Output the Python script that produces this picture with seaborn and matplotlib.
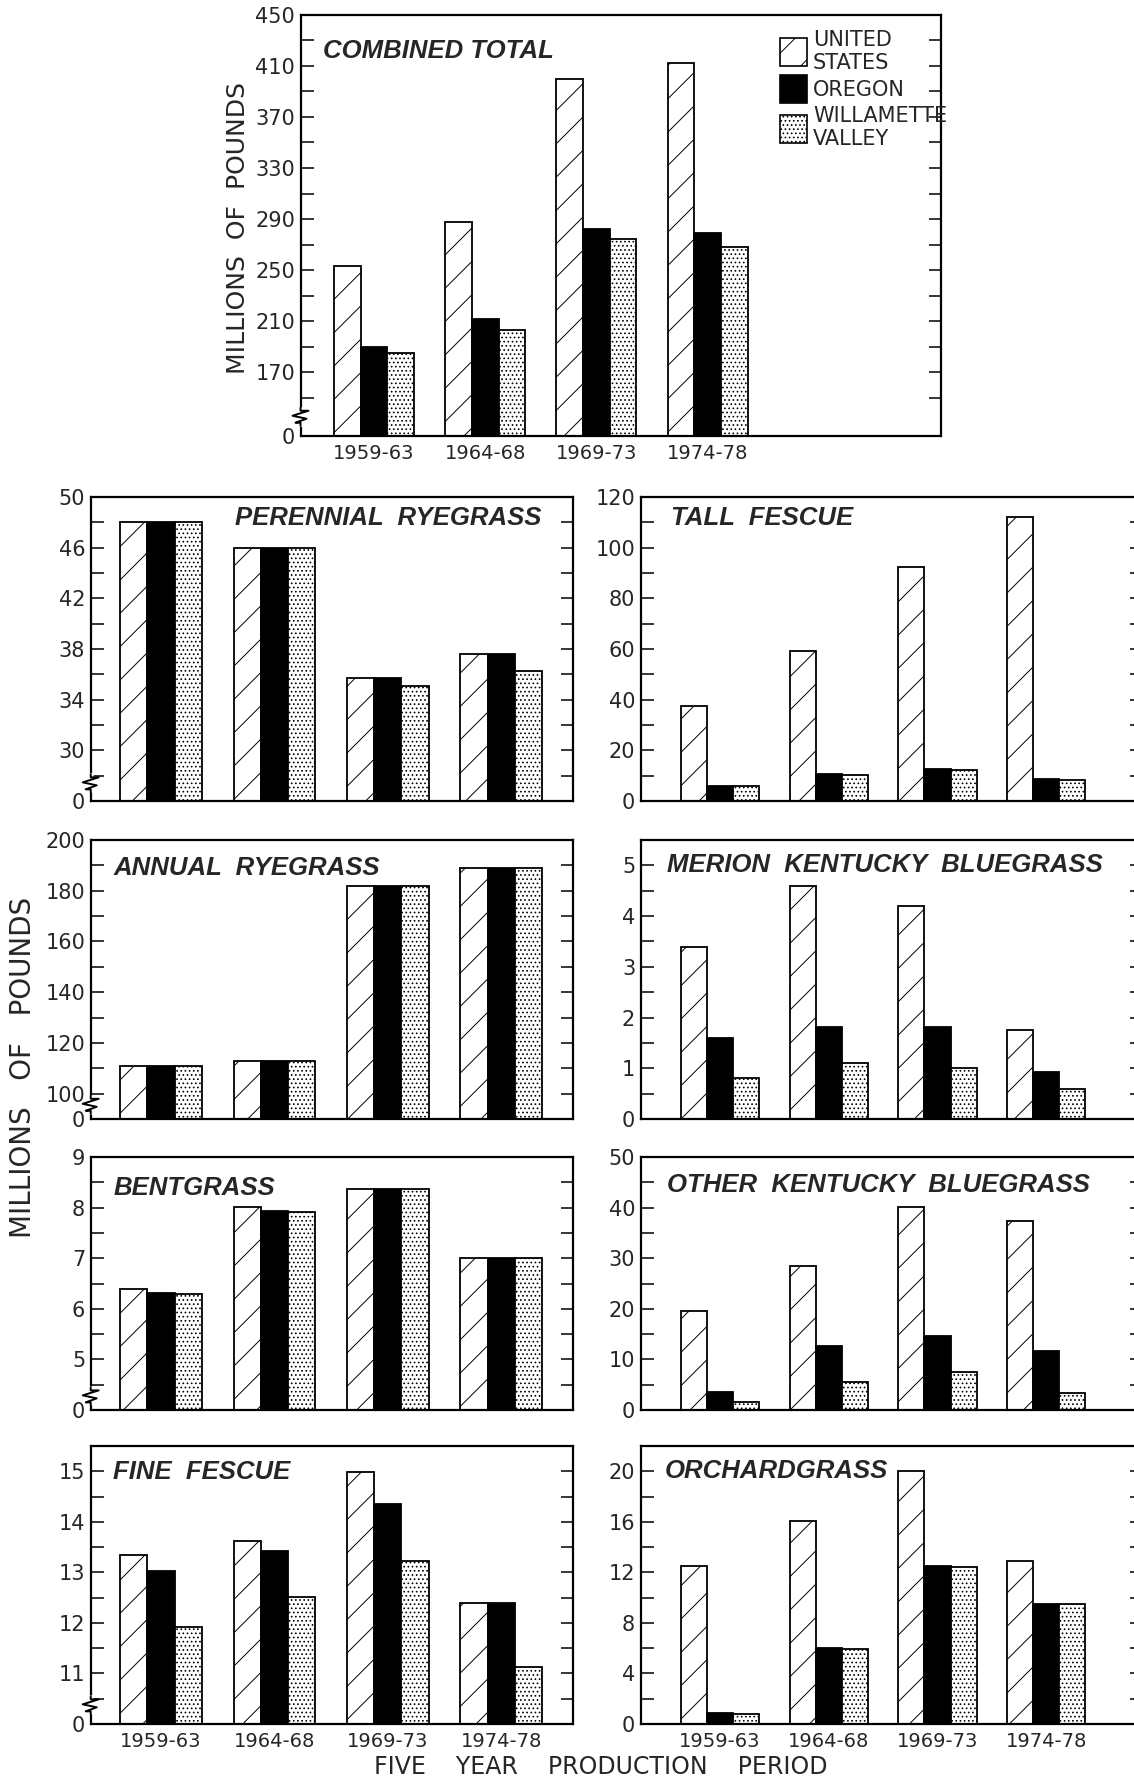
import matplotlib
matplotlib.use("Agg")
import matplotlib.pyplot as plt
from matplotlib.patches import Patch
import numpy as np
import pandas as pd
import seaborn as sns

# --- data (millions of pounds) ---
periods = ["1959-63", "1964-68", "1969-73", "1974-78"]
regions = ["UNITED STATES", "OREGON", "WILLAMETTE VALLEY"]
legend_labels = ["UNITED\nSTATES", "OREGON", "WILLAMETTE\nVALLEY"]

total_us = [253, 288, 400, 412]
total_or = [190, 212, 282, 279]
total_wv = [185, 203, 274, 268]

perennial_us = [48, 46, 35.7, 37.6]
perennial_or = [48, 46, 35.7, 37.6]
perennial_wv = [48, 46, 35.1, 36.3]

tall_us = [37.4, 59.2, 92.5, 112.3]
tall_or = [6.0, 10.5, 12.5, 8.6]
tall_wv = [5.8, 10.3, 12.3, 8.5]

annual_us = [111, 113, 182, 189]
annual_or = [111, 113, 182, 189]
annual_wv = [111, 113, 182, 189]

merion_us = [3.4, 4.6, 4.2, 1.75]
merion_or = [1.6, 1.82, 1.82, 0.93]
merion_wv = [0.81, 1.1, 1.0, 0.6]

bent_us = [6.4, 8.02, 8.37, 7.0]
bent_or = [6.31, 7.93, 8.37, 7.0]
bent_wv = [6.29, 7.92, 8.37, 7.0]

otherkb_us = [19.5, 28.5, 40.2, 37.4]
otherkb_or = [3.6, 12.6, 14.6, 11.6]
otherkb_wv = [1.5, 5.5, 7.5, 3.4]

fine_us = [13.34, 13.63, 14.98, 12.39]
fine_or = [13.03, 13.42, 14.36, 12.4]
fine_wv = [11.92, 12.52, 13.22, 11.13]

orchard_us = [12.5, 16.1, 20.0, 12.9]
orchard_or = [0.9, 6.0, 12.5, 9.5]
orchard_wv = [0.8, 5.9, 12.4, 9.5]

FIG_W, FIG_H = 1134, 1779

sns.set_style("ticks")
plt.rcParams["font.family"] = ["DejaVu Sans"]
plt.rcParams["hatch.linewidth"] = 0.7
TITLE_FONT = ["Liberation Sans", "DejaVu Sans"]

hatches = ["/", "", "...."]
palette = ["white", "black", "white"]


def make_df(us, oregon, wv):
    rows = []
    for reg, vals in zip(regions, [us, oregon, wv]):
        for p, v in zip(periods, vals):
            rows.append({"period": p, "region": reg, "value": v})
    return pd.DataFrame(rows)


def draw_break(ax, yval):
    # little zigzag on the left spine where the scale is cut
    bbox = ax.get_position()
    w_px = bbox.width * FIG_W
    h_px = bbox.height * FIG_H
    lo, hi = ax.get_ylim()
    py = (hi - lo) / h_px
    px = 1.0 / w_px
    tr = ax.get_yaxis_transform()
    ax.plot([0, 0], [yval - 7 * py, yval + 7 * py], color="white", lw=4,
            transform=tr, clip_on=False, zorder=6)
    xs = [0, 0, 8, -8, 6, -5, 0, 0]
    ys = [9, 6, 6, 1, -2, -6, -6, -9]
    ax.plot([x * px for x in xs], [yval + y * py for y in ys], color="black",
            lw=1.4, transform=tr, clip_on=False, zorder=7)


def panel(rect, us, oregon, wv, title, lo, hi, labels, minor, xlim,
          title_xy, title_ha="left", brk=None, xlabels=False):
    ax = fig.add_axes(rect)
    df = make_df(us, oregon, wv)
    sns.barplot(data=df, x="period", y="value", hue="region", order=periods,
                hue_order=regions, palette=palette, saturation=1, width=0.72,
                edgecolor="black", linewidth=1.3, legend=False, ax=ax)
    for cont, h in zip(ax.containers, hatches):
        for bar in cont:
            bar.set_hatch(h)
    ax.set_xlim(*xlim)
    ax.set_ylim(lo, hi)
    ticks = list(labels)
    ticklabels = [("%g" % t) for t in labels]
    if lo > 0:
        ticks = [lo] + ticks
        ticklabels = ["0"] + ticklabels
    ax.set_yticks(ticks)
    ax.set_yticklabels(ticklabels)
    ax.set_yticks(minor, minor=True)
    ax.tick_params(axis="y", which="both", direction="in", length=9,
                   width=1.3, right=True, labelsize=15, pad=4)
    ax.tick_params(axis="x", length=0, labelsize=14, pad=6)
    if not xlabels:
        ax.set_xticklabels([])
    ax.set_xlabel("")
    ax.set_ylabel("")
    for s in ax.spines.values():
        s.set_linewidth(1.6)
        s.set_color("black")
    ax.text(title_xy[0], title_xy[1], title, transform=ax.transAxes,
            ha=title_ha, va="center", fontsize=18.5, fontweight="bold",
            fontstyle="italic", family=TITLE_FONT)
    if brk is not None:
        draw_break(ax, brk)
    return ax


fig = plt.figure(figsize=(FIG_W / 100, FIG_H / 100), dpi=100)

# top panel
ax0 = panel([0.265, 0.755, 0.565, 0.2366], total_us, total_or, total_wv,
            "COMBINED TOTAL", 120, 450, range(170, 451, 40),
            range(150, 451, 20), (-0.66, 5.1), (0.035, 0.915), brk=135,
            xlabels=True)
handles = [Patch(facecolor=c, edgecolor="black", hatch=h, linewidth=1.2)
           for c, h in zip(palette, hatches)]
ax0.legend(handles, legend_labels, loc="upper left",
           bbox_to_anchor=(0.735, 0.985), frameon=False, fontsize=15,
           handlelength=1.3, handleheight=1.7, handletextpad=0.3,
           labelspacing=0.12, borderaxespad=0)
fig.text(0.21, 0.872, "MILLIONS  OF  POUNDS", rotation=90, ha="center",
         va="center", fontsize=18)

LX, LW = 0.080, 0.425
RX, RW = 0.565, 0.442
rows = [(0.5497, 0.1709), (0.371, 0.1568), (0.2074, 0.1422), (0.0309, 0.1563)]
lxlim = (-0.62, 3.63)
rxlim = (-0.73, 3.88)

panel([LX, rows[0][0], LW, rows[0][1]], perennial_us, perennial_or,
      perennial_wv, "PERENNIAL  RYEGRASS", 26, 50, range(30, 51, 4),
      range(28, 51, 2), lxlim, (0.935, 0.93), title_ha="right", brk=27.4)
panel([RX, rows[0][0], RW, rows[0][1]], tall_us, tall_or, tall_wv,
      "TALL  FESCUE", 0, 120, range(0, 121, 20), range(0, 121, 10),
      rxlim, (0.06, 0.93))

panel([LX, rows[1][0], LW, rows[1][1]], annual_us, annual_or, annual_wv,
      "ANNUAL  RYEGRASS", 90, 200, range(100, 201, 20), range(110, 201, 10),
      lxlim, (0.047, 0.90), brk=95.6)
panel([RX, rows[1][0], RW, rows[1][1]], merion_us, merion_or, merion_wv,
      "MERION  KENTUCKY  BLUEGRASS", 0, 5.5, range(0, 6),
      np.arange(0, 5.51, 0.5), rxlim, (0.052, 0.91))

panel([LX, rows[2][0], LW, rows[2][1]], bent_us, bent_or, bent_wv,
      "BENTGRASS", 4, 9, range(5, 10), np.arange(4.5, 9.01, 0.5),
      lxlim, (0.047, 0.877), brk=4.27)
panel([RX, rows[2][0], RW, rows[2][1]], otherkb_us, otherkb_or, otherkb_wv,
      "OTHER  KENTUCKY  BLUEGRASS", 0, 50, range(0, 51, 10),
      range(0, 51, 5), rxlim, (0.052, 0.89))

panel([LX, rows[3][0], LW, rows[3][1]], fine_us, fine_or, fine_wv,
      "FINE  FESCUE", 10, 15.5, range(11, 16), np.arange(10.5, 15.51, 0.5),
      lxlim, (0.047, 0.905), brk=10.37, xlabels=True)
panel([RX, rows[3][0], RW, rows[3][1]], orchard_us, orchard_or, orchard_wv,
      "ORCHARDGRASS", 0, 22, range(0, 21, 4), range(0, 23, 2),
      rxlim, (0.047, 0.91), xlabels=True)

fig.text(0.02, 0.40, "MILLIONS   OF   POUNDS", rotation=90, ha="center",
         va="center", fontsize=20)
fig.text(0.53, 0.0, "FIVE    YEAR    PRODUCTION    PERIOD", ha="center",
         va="bottom", fontsize=17)

fig.savefig("out.png", dpi=100, facecolor="white")
